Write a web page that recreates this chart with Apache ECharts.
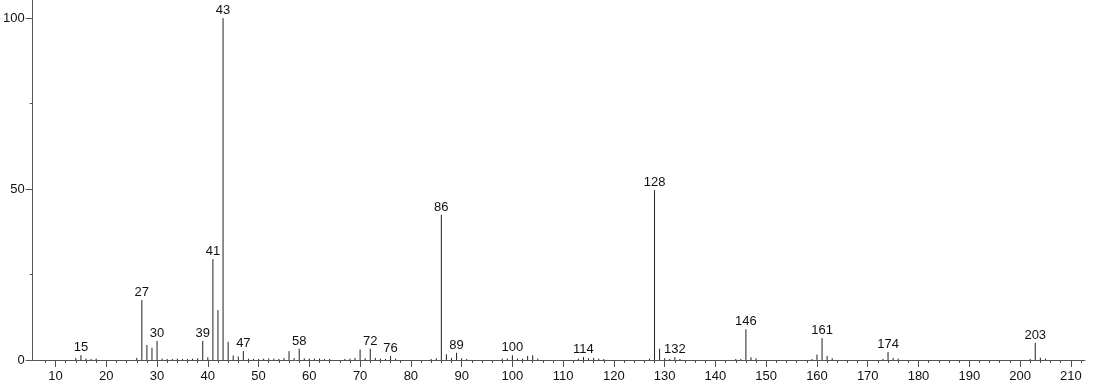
<!DOCTYPE html>
<html>
<head>
<meta charset="utf-8">
<script src="https://cdn.jsdelivr.net/npm/echarts@6/dist/echarts.min.js"></script>
<style>html,body{margin:0;padding:0;background:#fff}#c{width:1094px;height:384px}</style>
</head>
<body>
<div id="c"></div>
<script>
// m/z values and relative intensities (%)
const mz = [14,15,16,17,18,26,27,28,29,30,31,32,33,34,35,36,37,38,39,40,41,42,43,44,45,46,47,48,49,50,51,52,53,54,55,56,57,58,59,60,61,62,63,64,67,68,69,70,71,72,73,74,75,76,77,84,85,86,87,88,89,90,91,98,99,100,101,102,103,104,105,113,114,115,116,117,118,127,128,129,130,131,132,133,144,145,146,147,148,159,160,161,162,163,173,174,175,176,202,203,204,205];
const intensity = [0.6,1.4,0.4,0.3,0.4,0.6,17.5,4.4,3.6,5.6,0.4,0.3,0.3,0.4,0.3,0.3,0.4,0.5,5.6,0.8,29.5,14.6,100,5.3,1.3,1.0,2.6,0.4,0.3,0.3,0.4,0.4,0.4,0.3,0.6,2.6,0.6,3.3,0.5,0.4,0.4,0.4,0.3,0.3,0.3,0.4,0.6,3.1,0.5,3.3,0.6,0.4,0.3,1.2,0.4,0.3,0.5,42.5,1.7,0.6,2.1,0.5,0.3,0.4,0.4,1.4,0.4,0.4,1.2,1.4,0.4,0.4,0.9,0.5,0.6,0.4,0.3,0.4,49.7,3.3,0.5,0.3,0.8,0.3,0.3,0.3,9.0,0.8,0.5,0.3,1.6,6.4,1.2,0.5,0.3,2.3,0.6,0.4,0.3,5.0,0.7,0.4];
const labeledMz = [15,27,30,39,41,43,47,58,72,76,86,89,100,114,128,132,146,161,174,203];
const xMajorTicks = [10,20,30,40,50,60,70,80,90,100,110,120,130,140,150,160,170,180,190,200,210];
const xMinorTicks = [];
for (let v = 8; v <= 212; v += 2) { if (v % 10 !== 0) xMinorTicks.push(v); }
const yMajorTicks = [0,50,100];
const yMinorTicks = [25,75];

const FONT = '"Liberation Sans", Arial, sans-serif';
const axisColor = '#555';
const xMin = 5.5, xMax = 212.8, yMin = 0, yMax = 105.3;

const data = mz.map((m, i) => [m, intensity[i]]);

const chart = echarts.init(document.getElementById('c'), null, {renderer: 'canvas'});
chart.setOption({
  animation: false,
  backgroundColor: '#fff',
  grid: {left: 30, right: 9, top: 0, bottom: 24, containLabel: false},
  xAxis: [{
    type: 'value', min: xMin, max: xMax, position: 'bottom',
    axisLine: {show: true, lineStyle: {color: axisColor, width: 1}},
    axisTick: {show: true, length: 7, customValues: xMajorTicks, lineStyle: {color: axisColor}},
    axisLabel: {show: true, customValues: xMajorTicks, margin: 10, color: '#111', fontSize: 13, fontFamily: FONT},
    splitLine: {show: false}
  }, {
    type: 'value', min: xMin, max: xMax, position: 'bottom', offset: 0,
    axisLine: {show: false},
    axisTick: {show: true, length: 3, customValues: xMinorTicks, lineStyle: {color: axisColor}},
    axisLabel: {show: false},
    splitLine: {show: false}
  }],
  yAxis: [{
    type: 'value', min: yMin, max: yMax, position: 'left',
    axisLine: {show: true, lineStyle: {color: axisColor, width: 1}},
    axisTick: {show: true, length: 7, customValues: yMajorTicks, lineStyle: {color: axisColor}},
    axisLabel: {show: true, customValues: yMajorTicks, margin: 8, color: '#111', fontSize: 13, fontFamily: FONT},
    splitLine: {show: false}
  }, {
    type: 'value', min: yMin, max: yMax, position: 'left', offset: 0,
    axisLine: {show: false},
    axisTick: {show: true, length: 3, customValues: yMinorTicks, lineStyle: {color: axisColor}},
    axisLabel: {show: false},
    splitLine: {show: false}
  }],
  series: [{
    type: 'custom',
    xAxisIndex: 0, yAxisIndex: 0,
    data: data,
    renderItem: function (params, api) {
      const x = api.value(0), y = api.value(1);
      const p0 = api.coord([x, 0]);
      const p1 = api.coord([x, y]);
      const children = [{
        type: 'line',
        shape: {x1: p0[0], y1: p0[1], x2: p1[0], y2: p1[1]},
        style: {stroke: '#222', lineWidth: 1}
      }];
      if (labeledMz.indexOf(x) >= 0) {
        children.push({
          type: 'text', x: p1[0], y: p1[1] - 1,
          style: {text: String(x), align: 'center', verticalAlign: 'bottom', font: '13px ' + FONT, fill: '#111'}
        });
      }
      return {type: 'group', children: children};
    }
  }]
});
</script>
</body>
</html>
